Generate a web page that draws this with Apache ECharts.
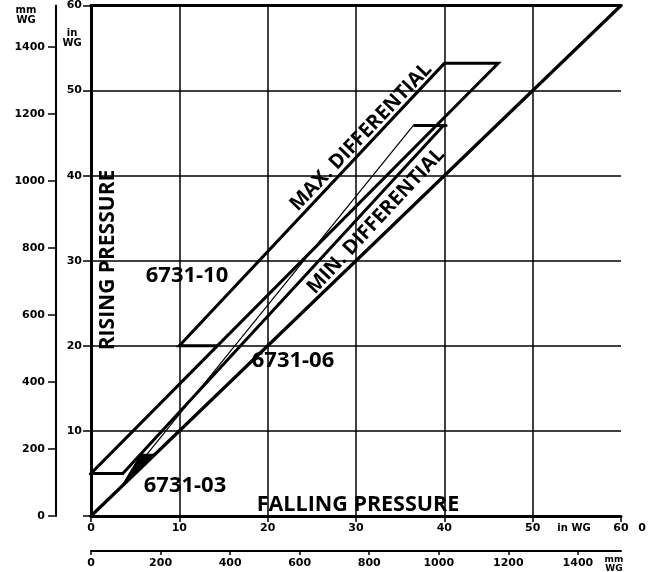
<!DOCTYPE html>
<html>
<head>
<meta charset="utf-8">
<script src="https://cdn.jsdelivr.net/npm/echarts@6/dist/echarts.min.js"></script>
<style>
html,body{margin:0;padding:0;background:#fff;}
#chart{width:653px;height:572px;}
</style>
</head>
<body>
<div id="chart"></div>
<script>
// ---- data (in WG: x = falling pressure, y = rising pressure) ----
const inWgTicks = [0, 10, 20, 30, 40, 50, 60];
const inWgTicksLeft = [10, 20, 30, 40, 50, 60];
const mmWgTicks = [0, 200, 400, 600, 800, 1000, 1200, 1400];
const mmPerInch = 25.4;
const diagonalLine = [[0, 0], [60, 60]];
const range10 = [[14.3, 20], [10, 20], [40, 53.2], [46.1, 53.2], [14.3, 20]];
const rightEdgeLower = [[14.3, 20], [0, 5], [3.6, 5]];
const range06 = [[3.6, 5], [39.9, 45.9], [36.5, 45.9], [40.2, 45.9]];
const thinEdge06 = [[6.3, 7.2], [36.5, 45.9]];
const wedge03 = [[3.4, 3.4], [5.6, 7.2], [7.1, 7.2]];
const top03 = [[5.6, 7.2], [7.2, 7.2]];

const FONT = '"DejaVu Sans", sans-serif';
const LFONT = '"Open Sans", "DejaVu Sans", sans-serif';

const chart = echarts.init(document.getElementById('chart'), null, {renderer: 'canvas'});

function seg(data, width) {
  return {
    type: 'line', data: data, xAxisIndex: 0, yAxisIndex: 0,
    symbol: 'none', silent: true, animation: false,
    lineStyle: {color: '#000', width: width, cap: 'round', join: 'miter'}
  };
}

const plain = function (v) { return String(Math.round(v)); };
const axisLabelStyle = {color: '#000', fontFamily: FONT, fontWeight: 'bold', fontSize: 11, formatter: plain};

const option = {
  backgroundColor: '#fff',
  animation: false,
  grid: {left: 91, top: 5, right: 32, bottom: 56},
  xAxis: [
    {
      type: 'value', position: 'bottom', min: 0, max: 60, interval: 10,
      axisLine: {show: true, onZero: false, lineStyle: {color: '#000', width: 3}},
      axisTick: {show: true, inside: false, length: 6, lineStyle: {color: '#000', width: 1.5}},
      axisLabel: Object.assign({margin: 7, customValues: inWgTicks}, axisLabelStyle),
      splitLine: {show: true, showMaxLine: false, lineStyle: {color: '#000', width: 1.5}}
    },
    {
      type: 'value', position: 'bottom', offset: 35, min: 0, max: 60 * mmPerInch,
      axisLine: {show: true, onZero: false, lineStyle: {color: '#000', width: 2}},
      axisTick: {show: true, length: 4, customValues: mmWgTicks, lineStyle: {color: '#000', width: 1.5}},
      axisLabel: Object.assign({margin: 7, customValues: mmWgTicks}, axisLabelStyle),
      splitLine: {show: false}
    },
    {
      type: 'value', position: 'top', min: 0, max: 60,
      axisLine: {show: true, onZero: false, lineStyle: {color: '#000', width: 3}},
      axisTick: {show: false}, axisLabel: {show: false}, splitLine: {show: false}
    }
  ],
  yAxis: [
    {
      type: 'value', position: 'left', min: 0, max: 60, interval: 10,
      axisLine: {show: true, onZero: false, lineStyle: {color: '#000', width: 3}},
      axisTick: {show: true, inside: false, length: 8, lineStyle: {color: '#000', width: 1.5}},
      axisLabel: Object.assign({margin: 9, customValues: inWgTicksLeft}, axisLabelStyle),
      splitLine: {show: true, lineStyle: {color: '#000', width: 1.5}}
    },
    {
      type: 'value', position: 'left', offset: 35, min: 0, max: 60 * mmPerInch,
      axisLine: {show: true, onZero: false, lineStyle: {color: '#000', width: 2}},
      axisTick: {show: true, length: 8, customValues: mmWgTicks, lineStyle: {color: '#000', width: 1.5}},
      axisLabel: Object.assign({margin: 11, customValues: mmWgTicks}, axisLabelStyle),
      splitLine: {show: false}
    }
  ],
  series: [
    seg(diagonalLine, 3.2),
    seg(range10, 3),
    seg(rightEdgeLower, 3),
    seg(range06, 3),
    seg(thinEdge06, 1.2),
    seg(top03, 2),
    {
      type: 'custom', xAxisIndex: 0, yAxisIndex: 0, silent: true, animation: false,
      data: [wedge03[0]],
      renderItem: function (params, api) {
        const pts = wedge03.map(function (p) { return api.coord(p); });
        return {type: 'polygon', shape: {points: pts}, style: {fill: '#000', stroke: '#000', lineWidth: 1}};
      }
    }
  ],
  graphic: [
    {type: 'text', x: 187, y: 276, style: {text: '6731-10', font: 'bold 22px ' + LFONT, fill: '#000', align: 'center', verticalAlign: 'middle'}},
    {type: 'text', x: 293, y: 361, style: {text: '6731-06', font: 'bold 22px ' + LFONT, fill: '#000', align: 'center', verticalAlign: 'middle'}},
    {type: 'text', x: 185, y: 486, style: {text: '6731-03', font: 'bold 22px ' + LFONT, fill: '#000', align: 'center', verticalAlign: 'middle'}},
    {type: 'text', x: 358, y: 505, style: {text: 'FALLING PRESSURE', font: 'bold 21.5px ' + LFONT, fill: '#000', align: 'center', verticalAlign: 'middle'}},
    {type: 'text', x: 108, y: 260, rotation: Math.PI / 2, style: {text: 'RISING PRESSURE', font: 'bold 21px ' + LFONT, fill: '#000', align: 'center', verticalAlign: 'middle'}},
    {type: 'text', x: 361, y: 137, rotation: 46.5 * Math.PI / 180, style: {text: 'MAX. DIFFERENTIAL', font: 'bold 20px ' + LFONT, fill: '#000', align: 'center', verticalAlign: 'middle'}},
    {type: 'text', x: 376, y: 221, rotation: 47 * Math.PI / 180, style: {text: 'MIN. DIFFERENTIAL', font: 'bold 20px ' + LFONT, fill: '#000', align: 'center', verticalAlign: 'middle'}},
    {type: 'text', x: 26, y: 15, style: {text: 'mm\nWG', font: 'bold 10px ' + FONT, lineHeight: 10, fill: '#000', align: 'center', verticalAlign: 'middle'}},
    {type: 'text', x: 72, y: 38, style: {text: 'in\nWG', font: 'bold 10px ' + FONT, lineHeight: 10, fill: '#000', align: 'center', verticalAlign: 'middle'}},
    {type: 'text', x: 574, y: 528, style: {text: 'in WG', font: 'bold 10px ' + FONT, fill: '#000', align: 'center', verticalAlign: 'middle'}},
    {type: 'text', x: 614, y: 564, style: {text: 'mm\nWG', font: 'bold 9px ' + FONT, lineHeight: 9, fill: '#000', align: 'center', verticalAlign: 'middle'}},
    {type: 'text', x: 642, y: 528, style: {text: '0', font: 'bold 11px ' + FONT, fill: '#000', align: 'center', verticalAlign: 'middle'}}
  ]
};
chart.setOption(option);
</script>
</body>
</html>
